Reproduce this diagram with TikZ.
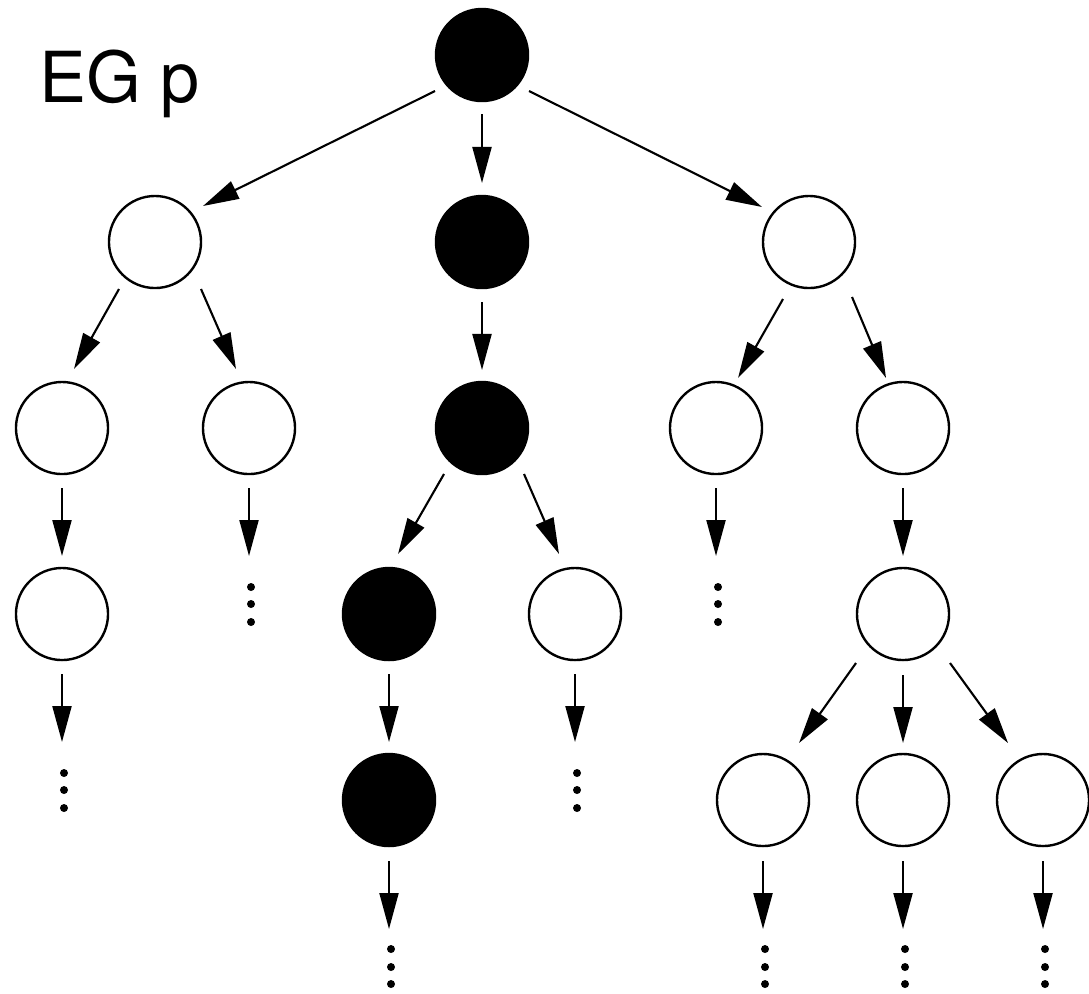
\documentclass[tikz,border=0pt]{standalone}
\usepackage{fontspec}
\setmainfont{TeX Gyre Heros}
\usetikzlibrary{arrows.meta}
\begin{document}
\begin{tikzpicture}[x=0.01cm,y=-0.01cm,
  st/.style={circle,draw=black,line width=0.68pt,minimum size=0.92cm,inner sep=0pt},
  full/.style={st,fill=black},
  hollow/.style={st,fill=white},
  arr/.style={line width=0.6pt,-{Triangle[length=0.36cm,width=0.19cm]}},
  dotc/.style={fill=black}]
\useasboundingbox (0,0) rectangle (1089,993);
\node[anchor=base west,font=\fontsize{20pt}{24pt}\selectfont,inner sep=0pt] (lbl) at (39,102) {EG p};
% nodes
\node[full] (r) at (482,55) {};
\node[hollow] (a) at (155,242) {};
\node[full] (b) at (482,242) {};
\node[hollow] (c) at (809,242) {};
\node[hollow] (a1) at (62,428) {};
\node[hollow] (a2) at (249,428) {};
\node[full] (d) at (482,428) {};
\node[hollow] (c1) at (716,428) {};
\node[hollow] (c2) at (903,428) {};
\node[hollow] (a11) at (62,614) {};
\node[full] (e) at (389,614) {};
\node[hollow] (f) at (575,614) {};
\node[hollow] (g) at (903,614) {};
\node[full] (h) at (389,800) {};
\node[hollow] (g1) at (763,800) {};
\node[hollow] (g2) at (903,800) {};
\node[hollow] (g3) at (1043,800) {};
% free ends (continuation dots)
\coordinate (za2) at (249,556);
\coordinate (zc1) at (716,556);
\coordinate (za11) at (62,742);
\coordinate (zf) at (575,742);
\coordinate (zh) at (389,929);
\coordinate (zg1) at (763,929);
\coordinate (zg2) at (903,929);
\coordinate (zg3) at (1043,929);
\foreach \z in {za2,zc1,za11,zf}{
  \fill[dotc] ([shift={(2,31)}]\z) circle (0.04cm);
  \fill[dotc] ([shift={(2,48)}]\z) circle (0.04cm);
  \fill[dotc] ([shift={(2,66)}]\z) circle (0.04cm);
}
\foreach \z in {zh,zg1,zg2,zg3}{
  \fill[dotc] ([shift={(2,20)}]\z) circle (0.04cm);
  \fill[dotc] ([shift={(2,38)}]\z) circle (0.04cm);
  \fill[dotc] ([shift={(2,55)}]\z) circle (0.04cm);
}
% diagonal edges
\draw[arr] ([shift={(-47,36)}]r.center) -- ([shift={(48,-36)}]a.center);
\draw[arr] ([shift={(47,36)}]r.center) -- ([shift={(-47,-35)}]c.center);
\draw[arr] ([shift={(-36,47)}]a.center) -- ([shift={(12,-59)}]a1.center);
\draw[arr] ([shift={(46,47)}]a.center) -- ([shift={(-13,-59)}]a2.center);
\draw[arr] ([shift={(-26,57)}]c.center) -- ([shift={(22,-50)}]c1.center);
\draw[arr] ([shift={(43,55)}]c.center) -- ([shift={(-17,-50)}]c2.center);
\draw[arr] ([shift={(-38,46)}]d.center) -- ([shift={(9,-60)}]e.center);
\draw[arr] ([shift={(42,46)}]d.center) -- ([shift={(-16,-60)}]f.center);
\draw[arr] ([shift={(-47,49)}]g.center) -- ([shift={(36,-57)}]g1.center);
\draw[arr] ([shift={(47,49)}]g.center) -- ([shift={(-35,-57)}]g3.center);
% vertical edges
\draw[arr] ([shift={(0,59)}]r.center) -- ([shift={(0,-59)}]b.center);
\draw[arr] ([shift={(0,60)}]b.center) -- ([shift={(0,-58)}]d.center);
\draw[arr] ([shift={(0,60)}]a1.center) -- ([shift={(0,-58)}]a11.center);
\draw[arr] ([shift={(0,60)}]c2.center) -- ([shift={(0,-58)}]g.center);
\draw[arr] ([shift={(0,60)}]e.center) -- ([shift={(0,-58)}]h.center);
\draw[arr] ([shift={(0,61)}]g.center) -- ([shift={(0,-57)}]g2.center);
\draw[arr] ([shift={(0,60)}]a2.center) -- (za2);
\draw[arr] ([shift={(0,60)}]c1.center) -- (zc1);
\draw[arr] ([shift={(0,60)}]a11.center) -- (za11);
\draw[arr] ([shift={(0,60)}]f.center) -- (zf);
\draw[arr] ([shift={(0,61)}]h.center) -- (zh);
\draw[arr] ([shift={(0,61)}]g1.center) -- (zg1);
\draw[arr] ([shift={(0,61)}]g2.center) -- (zg2);
\draw[arr] ([shift={(0,61)}]g3.center) -- (zg3);
\end{tikzpicture}
\end{document}
